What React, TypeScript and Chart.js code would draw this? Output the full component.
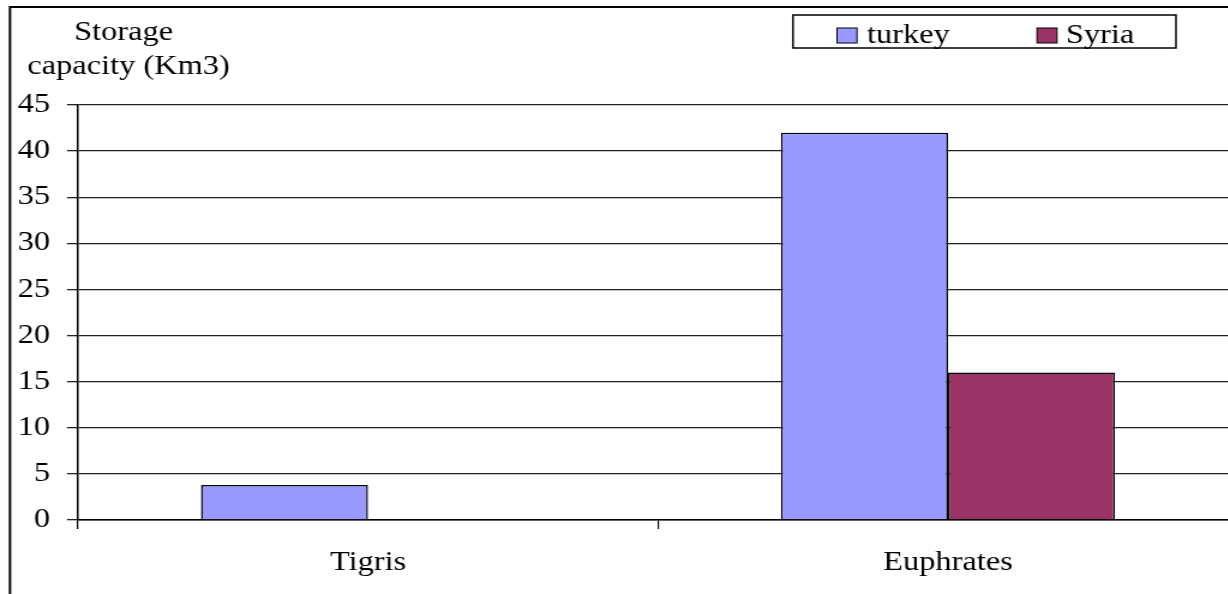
import React, { useEffect, useRef } from 'react';
import { Chart, registerables } from 'chart.js';

Chart.register(...registerables);

// Reservoir storage capacity by river basin (km³)
const categories = ['Tigris', 'Euphrates'];
const seriesNames = ['turkey', 'Syria'];
const turkeyValues: (number | null)[] = [3.8, 42];
const syriaValues: (number | null)[] = [null, 16];
const seriesColors = ['#9999FF', '#993366'];
const yMin = 0;
const yMax = 45;
const yStep = 5;
const axisTitleLines = ['Storage', 'capacity (Km3)'];

// The canvas is drawn narrow and widened by CSS, giving the wide serif lettering.
const STRETCH = 1.2;
const CANVAS_W = 1040;
const CANVAS_H = 594;
const sx = (px: number) => px / STRETCH;

const FONT_FAMILY = '"Liberation Serif", "Times New Roman", serif';
const FONT_SIZE = 27;

const decorPlugin = {
  id: 'decor',
  afterDraw(chart: Chart) {
    const ctx = chart.ctx;
    ctx.save();

    // outer frame (left and top edges)
    ctx.strokeStyle = '#000';
    ctx.lineWidth = 2;
    ctx.beginPath();
    ctx.moveTo(sx(10), CANVAS_H);
    ctx.lineTo(sx(10), 7);
    ctx.lineTo(CANVAS_W, 7);
    ctx.stroke();

    ctx.font = `${FONT_SIZE}px ${FONT_FAMILY}`;
    ctx.fillStyle = '#000';
    ctx.textBaseline = 'alphabetic';

    // axis title, two lines above the value axis
    ctx.textAlign = 'center';
    ctx.fillText(axisTitleLines[0], sx(123.5), 40);
    ctx.fillText(axisTitleLines[1], sx(128.5), 74);

    // legend box
    ctx.lineWidth = 1.5;
    ctx.strokeStyle = '#000';
    ctx.fillStyle = '#fff';
    ctx.fillRect(sx(793), 15, sx(1176) - sx(793), 33);
    ctx.strokeRect(sx(793), 15, sx(1176) - sx(793), 33);

    const swatchX = [sx(837), sx(1037)];
    const textX = [sx(867), sx(1066)];
    seriesNames.forEach((name, i) => {
      ctx.fillStyle = seriesColors[i];
      ctx.fillRect(swatchX[i], 28, sx(20), 15);
      ctx.lineWidth = 1;
      ctx.strokeStyle = '#000';
      ctx.strokeRect(swatchX[i], 28, sx(20), 15);
      ctx.fillStyle = '#000';
      ctx.textAlign = 'left';
      ctx.fillText(name, textX[i], 43);
    });

    ctx.restore();
  },
};

export default function App() {
  const canvasRef = useRef<HTMLCanvasElement | null>(null);

  useEffect(() => {
    if (!canvasRef.current) return;
    const font = { family: FONT_FAMILY, size: FONT_SIZE };
    const chart = new Chart(canvasRef.current, {
      type: 'bar',
      data: {
        labels: categories,
        datasets: [
          {
            label: seriesNames[0],
            data: turkeyValues,
            backgroundColor: seriesColors[0],
            borderColor: '#000',
            borderWidth: 1.5,
            categoryPercentage: 0.576,
            barPercentage: 1,
          },
          {
            label: seriesNames[1],
            data: syriaValues,
            backgroundColor: seriesColors[1],
            borderColor: '#000',
            borderWidth: 1.5,
            categoryPercentage: 0.576,
            barPercentage: 1,
          },
        ],
      },
      options: {
        animation: false,
        responsive: false,
        devicePixelRatio: 1,
        layout: { padding: { left: 0, top: 105, right: CANVAS_W - sx(1238), bottom: 0 } },
        plugins: {
          legend: { display: false },
          tooltip: { enabled: false },
          title: { display: false },
        },
        scales: {
          x: {
            grid: {
              drawOnChartArea: false,
              drawTicks: true,
              tickLength: 9,
              color: '#000',
              lineWidth: 1.2,
            },
            border: { display: true, color: '#000', width: 1.5 },
            ticks: { font, color: '#000', padding: 18, maxRotation: 0 },
            afterFit: (s: any) => {
              s.height = CANVAS_H - 520;
            },
          },
          y: {
            min: yMin,
            max: yMax,
            ticks: { stepSize: yStep, font, color: '#000', padding: sx(17) },
            grid: { color: '#222', lineWidth: 1.3, tickLength: sx(11) },
            border: { display: true, color: '#000', width: 1.5 },
            afterFit: (s: any) => {
              s.width = sx(78);
            },
          },
        },
      },
      plugins: [decorPlugin],
    });
    return () => chart.destroy();
  }, []);

  return (
    <div
      style={{
        position: 'fixed',
        left: 0,
        top: 0,
        width: 1228,
        height: CANVAS_H,
        overflow: 'hidden',
        background: '#fff',
      }}
    >
      <canvas
        ref={canvasRef}
        width={CANVAS_W}
        height={CANVAS_H}
        style={{ width: `${CANVAS_W * STRETCH}px`, height: `${CANVAS_H}px`, display: 'block' }}
      />
    </div>
  );
}
